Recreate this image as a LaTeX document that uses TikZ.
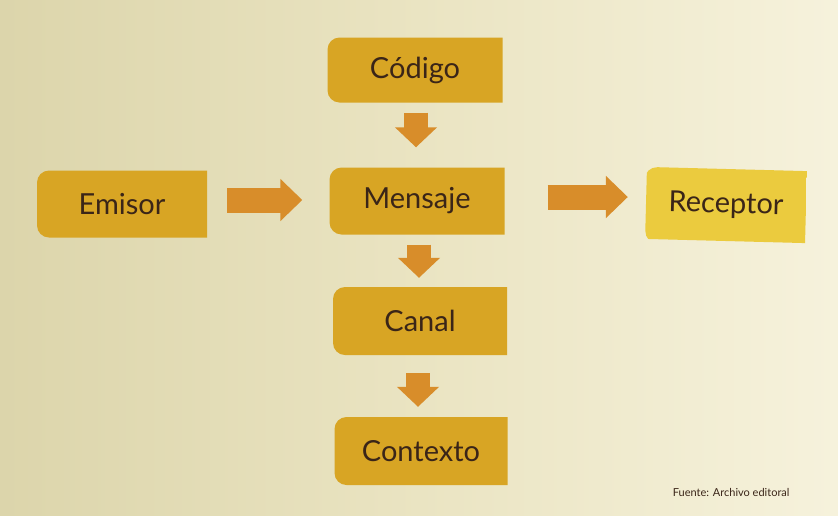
\documentclass[tikz,border=0pt]{standalone}
\usepackage{fontspec}
\setmainfont{Lato}
\usetikzlibrary{calc,arrows.meta}
\definecolor{bgL}{HTML}{DCD5AB}
\definecolor{bgM}{HTML}{EAE4C2}
\definecolor{bgR}{HTML}{F6F2DC}
\definecolor{boxfill}{HTML}{D8A524}
\definecolor{boxlight}{HTML}{EBCB3E}
\definecolor{arrowfill}{HTML}{D88D2A}
\definecolor{ink}{HTML}{3A2518}
\tikzset{
  lbox/.style={minimum width=175pt, minimum height=65pt, inner sep=0pt,
    font=\fontsize{29}{32}\selectfont, text=ink,
    path picture={\fill[#1] (path picture bounding box.north east)
      -- ([xshift=12pt]path picture bounding box.north west)
      arc[start angle=90,end angle=180,radius=12pt]
      -- ([yshift=12pt]path picture bounding box.south west)
      arc[start angle=180,end angle=270,radius=12pt]
      -- (path picture bounding box.south east) -- cycle;}},
  lbox/.default=boxfill,
  barrow/.style={draw=arrowfill, line width=25pt,
    -{Triangle[width=41pt,length=22pt,fill=arrowfill]}},
  sarrow/.style={draw=arrowfill, line width=24pt,
    -{Triangle[width=41pt,length=20pt,fill=arrowfill]}}
}
\begin{document}
\begin{tikzpicture}[x=1pt,y=-1pt]
\useasboundingbox (0,0) rectangle (838,515);
\shade[left color=bgL, right color=bgR, middle color=bgM] (0,0) rectangle (838,515);
\node[lbox] (codigo) at (415,70) {Código};
\node[lbox, minimum width=170pt, minimum height=67pt] (emisor) at (122,204) {Emisor};
\node[lbox, minimum height=67pt] (mensaje) at (417,201) {Mensaje};
\node[lbox=boxlight, minimum width=160pt, minimum height=72pt, rotate=-1.5] (receptor) at (726,205) {Receptor};
\node[lbox, minimum width=174pt, minimum height=68pt] (canal) at (420,321) {Canal};
\node[lbox, minimum width=173pt, minimum height=68pt] (contexto) at (421,451) {Contexto};
\node[anchor=east, font=\fontsize{11}{13}\selectfont, text=ink] (fuente) at (793,492) {Fuente: Archivo editoral};
\coordinate (a1) at ($(emisor.east)+(20,-4)$);
\draw[barrow] (a1) -- ([xshift=-27pt]a1 -| mensaje.west);
\coordinate (a2) at ($(mensaje.east)+(43,-4)$);
\draw[barrow] (a2) -- ([xshift=-18pt]a2 -| receptor.west);
\coordinate (a3) at ($(codigo.south)+(1,10)$);
\draw[sarrow] (a3) -- ([yshift=20pt]a3 |- mensaje.north);
\coordinate (a4) at ($(mensaje.south)+(2,10)$);
\draw[sarrow] (a4) -- ([yshift=9pt]a4 |- canal.north);
\coordinate (a5) at ($(canal.south)+(-2,18)$);
\draw[sarrow] (a5) -- ([yshift=10pt]a5 |- contexto.north);
\end{tikzpicture}
\end{document}
